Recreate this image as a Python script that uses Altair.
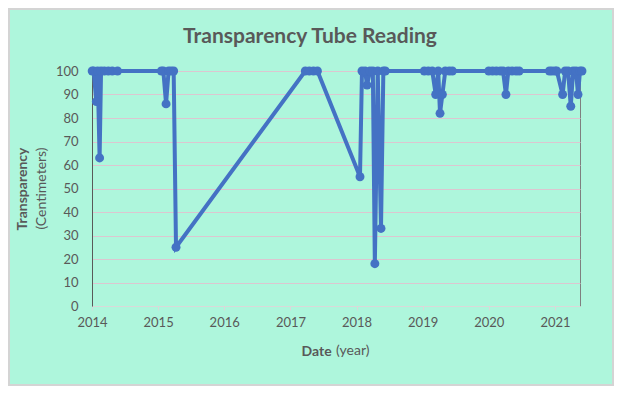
import altair as alt
import pandas as pd

# Reading dates and transparency values (cm)
dates = [
    "2014-01-02", "2014-01-10", "2014-01-25", "2014-02-01", "2014-02-12", "2014-02-20",
    "2014-03-10", "2014-04-01", "2014-04-23", "2014-05-22",
    "2015-01-19", "2015-01-30", "2015-02-14", "2015-02-28", "2015-03-14", "2015-03-28", "2015-04-10",
    "2017-03-24", "2017-04-15", "2017-05-08", "2017-05-30",
    "2018-01-20", "2018-01-31", "2018-02-17", "2018-02-28", "2018-03-16", "2018-04-01",
    "2018-04-12", "2018-04-28", "2018-05-16", "2018-05-29", "2018-06-09",
    "2019-01-10", "2019-02-01", "2019-02-23", "2019-03-14", "2019-03-28", "2019-04-07",
    "2019-04-20", "2019-05-06", "2019-05-28", "2019-06-14",
    "2020-01-01", "2020-01-22", "2020-02-12", "2020-03-05", "2020-03-20", "2020-04-05",
    "2020-04-18", "2020-05-09", "2020-05-31", "2020-06-17",
    "2020-12-01", "2020-12-15", "2021-01-01", "2021-01-11", "2021-02-12", "2021-02-26",
    "2021-03-14", "2021-03-29", "2021-04-11", "2021-04-27", "2021-05-08", "2021-05-19", "2021-05-30",
]
values = [
    100, 100, 87, 100, 63, 100,
    100, 100, 100, 100,
    100, 100, 86, 100, 100, 100, 25,
    100, 100, 100, 100,
    55, 100, 100, 94, 100, 100,
    18, 100, 33, 100, 100,
    100, 100, 100, 90, 100, 82,
    90, 100, 100, 100,
    100, 100, 100, 100, 100, 90,
    100, 100, 100, 100,
    100, 100, 100, 100, 90, 100,
    100, 85, 100, 100, 90, 100, 100,
]
year_ticks = [2014, 2015, 2016, 2017, 2018, 2019, 2020, 2021]
y_ticks = [0, 10, 20, 30, 40, 50, 60, 70, 80, 90, 100]
title_text = "Transparency Tube Reading"

df = pd.DataFrame({"date": dates, "value": values})

BLUE = "#4472C4"
TXT = "#595959"
GRID = "#DCC6D0"
BG = "#AEF6DC"
FONT = "Lato"

W, H = 488, 235

x_enc = alt.X(
    "date:T",
    scale=alt.Scale(
        type="utc",
        domain=[alt.DateTime(year=2014, month=1, date=1, utc=True),
                alt.DateTime(year=2021, month=5, date=19, utc=True)],
    ),
    axis=alt.Axis(
        values=[alt.DateTime(year=y, month=1, date=1, utc=True) for y in year_ticks],
        format="%Y", formatType="utc", labelFlush=False, labelOverlap=False,
        title="Date", titleFont=FONT, titleFontSize=14, titleFontWeight="bold", titleColor=TXT,
        titleX=209, titleY=45, titleAlign="left", titleBaseline="middle",
        labelFont=FONT, labelFontSize=13, labelColor=TXT, labelPadding=6,
        tickSize=4, tickColor="#D9D9D9", domainColor="#D9D9D9", grid=False,
    ),
)
y_enc = alt.Y(
    "value:Q",
    scale=alt.Scale(domain=[0, 100], nice=False),
    axis=alt.Axis(
        values=y_ticks, labelOverlap=False, labelFlush=False,
        title="Transparency", titleFont=FONT, titleFontSize=14, titleFontWeight="bold", titleColor=TXT,
        titleX=-70, titleY=H / 2, titleAngle=270, titleAlign="center", titleBaseline="middle",
        labelFont=FONT, labelFontSize=13, labelColor=TXT, labelPadding=14,
        tickSize=0, domainColor="#595959", gridColor=GRID, gridWidth=1,
    ),
)

base = alt.Chart(df).encode(x=x_enc, y=y_enc)
line = base.mark_line(color=BLUE, strokeWidth=4, clip=False).encode(order="date:T")
pts = base.mark_point(color=BLUE, filled=True, opacity=1, size=80, clip=False)

ysub = alt.Chart(pd.DataFrame({"t": ["(Centimeters)"]})).mark_text(
    font=FONT, fontSize=14, color=TXT, angle=270, align="center", baseline="middle"
).encode(text="t:N", x=alt.value(-50), y=alt.value(H / 2))
xsub = alt.Chart(pd.DataFrame({"t": ["(year)"]})).mark_text(
    font=FONT, fontSize=14, color=TXT, align="left", baseline="middle"
).encode(text="t:N", x=alt.value(244), y=alt.value(H + 45))
title = alt.Chart(pd.DataFrame({"t": [title_text]})).mark_text(
    font=FONT, fontSize=21, fontWeight="bold", color=TXT, align="center", baseline="alphabetic"
).encode(text="t:N", x=alt.value(W / 2 - 26), y=alt.value(-28))

# outer frame of the chart area
frame = alt.Chart(pd.DataFrame({"f": [0]})).mark_rect(
    fill=None, fillOpacity=0, stroke="#D4D4D4", strokeWidth=2
).encode(x=alt.value(-83), x2=alt.value(W + 33), y=alt.value(-62), y2=alt.value(H + 79))

chart = alt.layer(frame, line, pts, ysub, xsub, title).properties(
    width=W, height=H,
    autosize=alt.AutoSizeParams(type="none"),
    padding={"left": 84, "top": 63, "right": 34, "bottom": 80},
).configure(background=BG).configure_view(stroke="#7F7F7F", strokeWidth=1)

chart.save("out.html", embed_options={"renderer": "svg", "actions": False})
